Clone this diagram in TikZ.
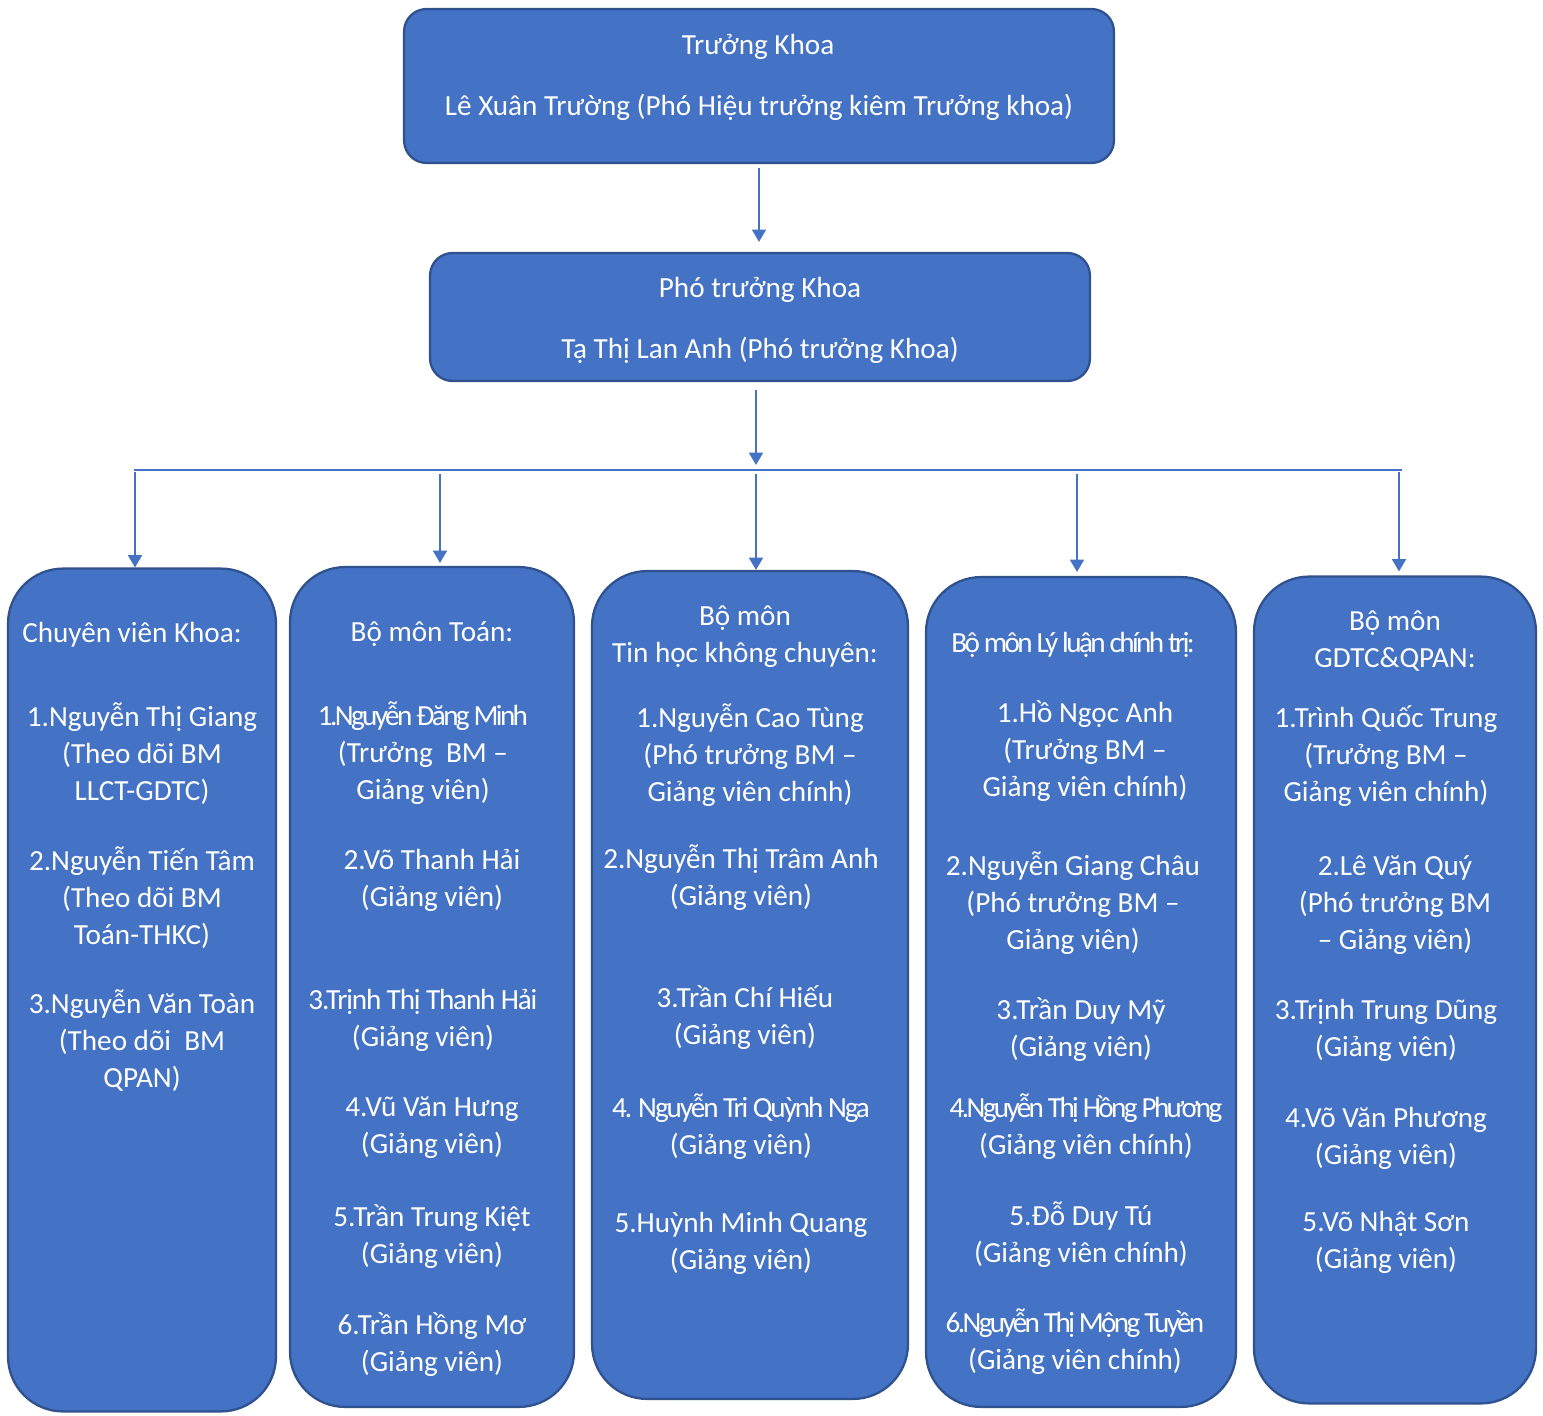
\documentclass[tikz,border=0pt]{standalone}
\usepackage{fontspec}
\setmainfont{Carlito}
\usetikzlibrary{arrows.meta}
\definecolor{khoablue}{HTML}{4472C4}
\definecolor{khoaline}{HTML}{2F528F}
\newcommand{\hep}[1][-9]{\addfontfeatures{LetterSpace=#1}}

\tikzset{
  hopkhoa/.style={draw=khoaline, fill=khoablue, line width=1.3pt, rounded corners=0.45cm},
  hopbm/.style={draw=khoaline, fill=khoablue, line width=1.3pt, rounded corners=1.1cm},
  chu/.style={text=white, align=center, font=\fontsize{16.6}{21}\selectfont},
  muiten/.style={draw=khoablue, line width=0.8pt, -{Triangle[width=8pt,length=7pt]}},
}

\begin{document}
\begin{tikzpicture}[x=0.02cm, y=-0.02cm]
\useasboundingbox (0,0) rectangle (1543,1416);
% khung tren
\node[hopkhoa, minimum width=14.2cm, minimum height=3.08cm] (truongkhoa) at (759,86) {};
\node[hopkhoa, minimum width=13.2cm, minimum height=2.56cm] (phokhoa) at (760,317) {};
\node[chu] (tk1) at (758,47) {Trưởng Khoa};
\node[chu] (tk2) at (759,107) {Lê Xuân Trường (Phó Hiệu trưởng kiêm Trưởng khoa)};
\node[chu] (pk1) at (760,290) {Phó trưởng Khoa};
\node[chu] (pk2) at (760,350) {Tạ Thị Lan Anh (Phó trưởng Khoa)};
% cac bo mon
\node[hopbm, minimum width=5.36cm, minimum height=16.86cm] (cot1) at (142,990) {};
\node[hopbm, minimum width=5.68cm, minimum height=16.8cm] (cot2) at (432,987) {};
\node[hopbm, minimum width=6.32cm, minimum height=16.56cm] (cot3) at (750,985) {};
\node[hopbm, minimum width=6.2cm, minimum height=16.6cm] (cot4) at (1081,992) {};
\node[hopbm, minimum width=5.64cm, minimum height=16.54cm] (cot5) at (1395,990) {};
% mui ten
\draw[muiten, shorten <=0.08cm, shorten >=0.2cm] (truongkhoa.south) -- (truongkhoa.south |- phokhoa.north);
\coordinate (hub) at (756,470);
\coordinate (busL) at (134,470);
\coordinate (busR) at (1402,470);
\draw[muiten, shorten <=0.16cm, shorten >=0.1cm] (phokhoa.south -| hub) -- (hub);
\draw[draw=khoablue, line width=0.8pt] (busL) -- (busR);
\coordinate (xa1) at (135,472);
\coordinate (xa2) at (440,474);
\coordinate (xa3) at (756,474);
\coordinate (xa4) at (1077,474);
\coordinate (xa5) at (1399,472);
\draw[muiten] (xa1) -- (xa1 |- cot1.north);
\draw[muiten, shorten >=0.06cm] (xa2) -- (xa2 |- cot2.north);
\draw[muiten] (xa3) -- (xa3 |- cot3.north);
\draw[muiten, shorten >=0.08cm] (xa4) -- (xa4 |- cot4.north);
\draw[muiten, shorten >=0.08cm] (xa5) -- (xa5 |- cot5.north);
% cot 1
\node[chu] (h1) at (132,635) {Chuyên viên Khoa:};
\node[chu] (e11) at (142,754) {1.Nguyễn Thị Giang\\(Theo dõi BM\\LLCT-GDTC)};
\node[chu] (e12) at (142,898) {2.Nguyễn Tiến Tâm\\(Theo dõi BM\\Toán-THKC)};
\node[chu] (e13) at (142,1041) {3.Nguyễn Văn Toàn\\(Theo dõi~ BM\\QPAN)};
% cot 2
\node[chu] (h2) at (432,634) {Bộ môn Toán:};
\node[chu] (e21) at (423,753) {{\hep 1.Nguyễn Đăng Minh}\\(Trưởng~ BM –\\Giảng viên)};
\node[chu] (e22) at (432,880) {2.Võ Thanh Hải\\(Giảng viên)};
\node[chu] (e23) at (423,1020) {{\hep[-4] 3.Trịnh Thị Thanh Hải}\\(Giảng viên)};
\node[chu] (e24) at (432,1128) {4.Vũ Văn Hưng\\(Giảng viên)};
\node[chu] (e25) at (432,1237) {5.Trần Trung Kiệt\\(Giảng viên)};
\node[chu] (e26) at (432,1345) {6.Trần Hồng Mơ\\(Giảng viên)};
% cot 3
\node[chu] (h3) at (745,637) {Bộ môn\\Tin học không chuyên:};
\node[chu] (e31) at (750,755) {1.Nguyễn Cao Tùng\\(Phó trưởng BM –\\Giảng viên chính)};
\node[chu] (e32) at (741,878) {2.Nguyễn Thị Trâm Anh\\(Giảng viên)};
\node[chu] (e33) at (745,1018) {3.Trần Chí Hiếu\\(Giảng viên)};
\node[chu] (e34) at (741,1127) {{\hep[-7] 4. Nguyễn Tri Quỳnh Nga}\\(Giảng viên)};
\node[chu] (e35) at (741,1243) {5.Huỳnh Minh Quang\\(Giảng viên)};
% cot 4
\node[chu] (h4) at (1073,645) {{\hep Bộ môn Lý luận chính trị:}};
\node[chu] (e41) at (1085,751) {1.Hồ Ngọc Anh\\(Trưởng BM –\\Giảng viên chính)};
\node[chu] (e42) at (1073,903) {2.Nguyễn Giang Châu\\(Phó trưởng BM –\\Giảng viên)};
\node[chu] (e43) at (1081,1030) {3.Trần Duy Mỹ\\(Giảng viên)};
\node[chu] (e44) at (1086,1127) {{\hep 4.Nguyễn Thị Hồng Phương}\\(Giảng viên chính)};
\node[chu] (e45) at (1081,1235) {5.Đỗ Duy Tú\\(Giảng viên chính)};
\node[chu] (e46) at (1075,1342) {{\hep 6.Nguyễn Thị Mộng Tuyền}\\(Giảng viên chính)};
% cot 5
\node[chu] (h5) at (1395,641) {Bộ môn\\GDTC\&QPAN:};
\node[chu] (e51) at (1386,756) {1.Trình Quốc Trung\\(Trưởng BM –\\Giảng viên chính)};
\node[chu] (e52) at (1395,905) {2.Lê Văn Quý\\(Phó trưởng BM\\– Giảng viên)};
\node[chu] (e53) at (1386,1030) {3.Trịnh Trung Dũng\\(Giảng viên)};
\node[chu] (e54) at (1386,1138) {4.Võ Văn Phương\\(Giảng viên)};
\node[chu] (e55) at (1386,1242) {5.Võ Nhật Sơn\\(Giảng viên)};
\end{tikzpicture}
\end{document}
